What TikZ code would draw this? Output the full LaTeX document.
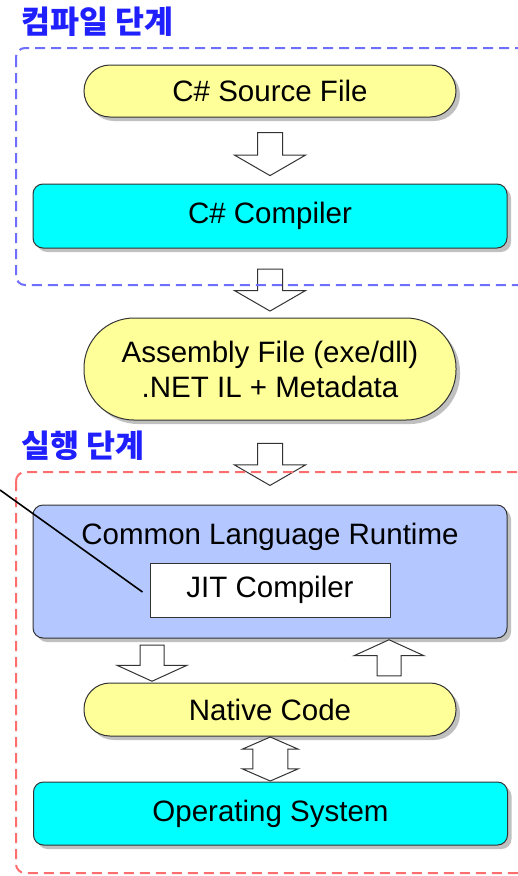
\documentclass[tikz,border=0pt]{standalone}
\usepackage{fontspec}
\setmainfont{Liberation Sans}
\newfontfamily\kr{Noto Sans CJK KR}
\usetikzlibrary{shapes.arrows,shadows,calc}
\definecolor{ylw}{HTML}{FFFF99}
\definecolor{cyn}{HTML}{00FFFF}
\definecolor{lav}{HTML}{B4C7FF}
\definecolor{bdash}{HTML}{6E6EFF}
\definecolor{rdash}{HTML}{FF6E6E}
\definecolor{ttl}{HTML}{2020FF}
\definecolor{edge}{HTML}{333333}
\begin{document}
\begin{tikzpicture}[x=1pt,y=-1pt,
  font=\fontsize{29.5}{35}\selectfont,
  shad/.style={drop shadow={shadow xshift=4pt,shadow yshift=-4pt,opacity=0.35,fill=black!70}},
  pill/.style={draw=edge,line width=1pt,fill=ylw,minimum width=372pt,shad},
  wide/.style={draw=edge,line width=1pt,rounded corners=10pt,minimum width=474pt,shad},
  ttlstyle/.style={font=\kr\bfseries\fontsize{31.5}{33}\selectfont,text=ttl,anchor=west,inner sep=0pt},
  zone/.style={dash pattern=on 10pt off 6pt,line width=2pt,rounded corners=9pt},
  barrow/.style={single arrow,draw=edge,fill=white,line width=1pt,inner xsep=0pt,inner ysep=12pt,
    minimum width=70pt,single arrow head extend=23pt,single arrow tip angle=120},
  darrow/.style={double arrow,draw=edge,fill=white,line width=1pt,inner xsep=0pt,inner ysep=17pt,
    minimum width=55pt,double arrow head extend=10.5pt,double arrow tip angle=133,minimum height=44pt}
]
\clip (0,0) rectangle (518,876);
\fill[white] (0,0) rectangle (518,876);

% titles
\node[ttlstyle] (t1) at (21,22) {컴파일 단계};
\node[ttlstyle] (t2) at (21,446) {실행 단계};

% main nodes
\node[pill,minimum height=52pt,rounded corners=26pt] (src) at (270,91) {C\# Source File};
\node[wide,fill=cyn,minimum height=64pt] (comp) at (270,216) {C\# Compiler};
\node[pill,minimum height=102pt,rounded corners=50pt,align=center] (asm) at (270,369)
  {Assembly File (exe/dll)\\.NET IL + Metadata};
\node[wide,fill=lav,minimum height=133pt] (clr) at (270,571.5) {};
\node (clrt) at (270,537) {Common Language Runtime};
\node[draw=edge,fill=white,line width=1pt,minimum width=240pt,minimum height=54pt] (jit) at (270,590) {JIT Compiler};
\node[pill,minimum height=53pt,rounded corners=26pt] (nat) at (270,709.5) {Native Code};
\node[wide,fill=cyn,minimum height=63pt] (os) at (270.5,813.5) {Operating System};

% block arrows
\node[barrow,rotate=-90,minimum height=43pt] (a1) at ($(src.south)!0.5!(comp.north)$) {};
\node[barrow,rotate=-90,minimum height=42pt] (a2) at ($(comp.south)!0.55!(asm.north)$) {};
\node[barrow,rotate=-90,minimum height=42pt] (a3) at ($(asm.south)!0.48!(clr.north)$) {};
\node[barrow,rotate=-90,minimum height=36pt,inner ysep=11.5pt,single arrow tip angle=131] (a4)
  at ($(clr.south)!0.5!(nat.north)+(-118,0)$) {};
\node[barrow,rotate=90,minimum height=36pt,inner ysep=11.5pt,single arrow tip angle=131] (a5)
  at ($(clr.south)!0.5!(nat.north)+(119,0)$) {};
\node[darrow,rotate=90] (a6) at ($(nat.south)!0.5!(os.north)$) {};

% dashed zones
\draw[zone,draw=bdash] (16,48) rectangle (540,285);
\draw[zone,draw=rdash] (16,472) rectangle (540,873);

% pointer line
\coordinate (pstart) at (0,490);
\draw[line width=1.6pt,black] (pstart) -- ($(jit.west)+(-7,2)$);
\end{tikzpicture}
\end{document}
